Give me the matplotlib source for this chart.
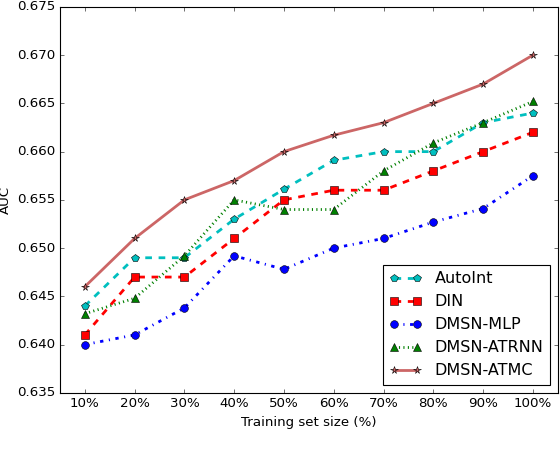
import matplotlib
matplotlib.use("Agg")
import matplotlib.pyplot as plt
import numpy as np

plt.style.use("classic")

sizes = ["10%", "20%", "30%", "40%", "50%", "60%", "70%", "80%", "90%", "100%"]

autoint = [0.644, 0.649, 0.649, 0.653, 0.6561, 0.6591, 0.660, 0.660, 0.663, 0.664]
din = [0.641, 0.647, 0.647, 0.651, 0.655, 0.656, 0.656, 0.658, 0.660, 0.662]
dmsn_mlp = [0.640, 0.641, 0.6438, 0.6492, 0.6478, 0.650, 0.6510, 0.6527, 0.6541, 0.6575]
dmsn_atrnn = [0.6432, 0.6448, 0.6492, 0.655, 0.654, 0.654, 0.658, 0.6609, 0.663, 0.6652]
dmsn_atmc = [0.646, 0.651, 0.655, 0.657, 0.660, 0.6617, 0.663, 0.665, 0.667, 0.670]

x = np.arange(1, len(sizes) + 1)

# reference looks like an old 80 dpi figure
fig = plt.figure(figsize=(7.0, 5.75), dpi=80)
fig.patch.set_facecolor("white")
ax = fig.add_axes([0.107, 0.146, 0.889, 0.839])

lw = 2.5
ms = 7
ax.plot(x, autoint, color="c", linestyle="--", linewidth=lw, marker="p",
        markersize=ms, markeredgecolor="k", label="AutoInt")
ax.plot(x, din, color="r", linestyle="--", linewidth=lw, marker="s",
        markersize=ms, markeredgecolor="k", label="DIN")
ax.plot(x, dmsn_mlp, color="b", linestyle="-.", linewidth=lw, marker="o",
        markersize=ms, markeredgecolor="k", label="DMSN-MLP")
ax.plot(x, dmsn_atrnn, color="g", linestyle=":", linewidth=lw, marker="^",
        markersize=ms, markeredgecolor="k", label="DMSN-ATRNN")
ax.plot(x, dmsn_atmc, color="#cc6666", linestyle="-", linewidth=lw, marker="*",
        markersize=ms, markeredgecolor="k", label="DMSN-ATMC")

ax.set_xlim(0.5, 10.5)
ax.set_ylim(0.635, 0.675)
ax.set_xticks(x)
ax.set_xticklabels(sizes)
ax.set_yticks(np.arange(0.635, 0.6751, 0.005))
ax.yaxis.set_major_formatter(matplotlib.ticker.FormatStrFormatter("%.3f"))
ax.tick_params(labelsize=12, direction="in", top=True, right=True)

ax.set_xlabel("Training set size (%)", fontsize=12)
ax.set_ylabel("AUC", fontsize=12)

ax.legend(loc="lower right", numpoints=2, fontsize=14.4, fancybox=False)

fig.savefig("out.png", dpi=80, facecolor="white")
